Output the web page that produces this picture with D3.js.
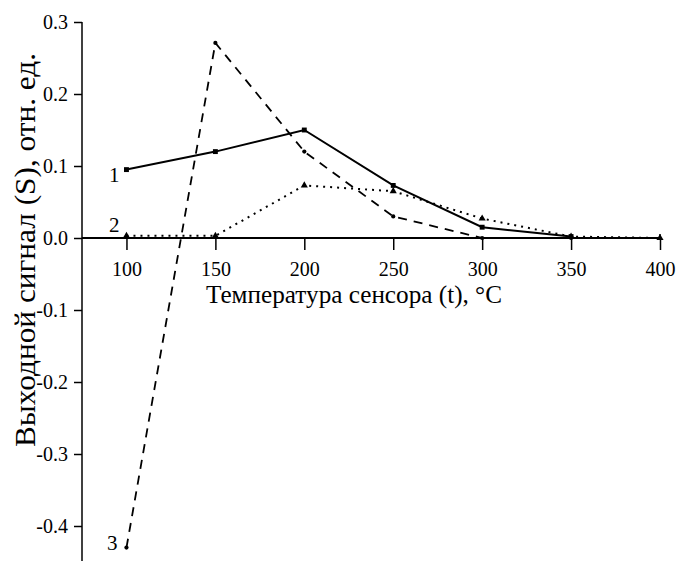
<!DOCTYPE html>
<html lang="ru">
  <head>
    <meta charset="UTF-8" />
    <title>Выходной сигнал</title>
    <style>
      html, body { margin: 0; padding: 0; background: #fff; }
      svg { display: block; }
      svg text { font-family: "Liberation Serif", "Times New Roman", serif !important; fill: #000; }
    </style>
  </head>
  <body>
    <svg width="681" height="561"></svg>

    <script src="https://d3js.org/d3.v7.min.js"></script>
    <script>
      // data
      const temps = [100, 150, 200, 250, 300, 350, 400];
      const series1 = [0.095, 0.12, 0.15, 0.073, 0.015, 0.002, null];
      const series2 = [0.003, 0.003, 0.073, 0.065, 0.027, 0.002, 0.0];
      const series3 = [-0.43, 0.271, 0.12, 0.03, 0.0, 0.0, null];
      const seriesNames = ["1", "2", "3"];
      const xTicks = [100, 150, 200, 250, 300, 350, 400];
      const yTicks = [-0.4, -0.3, -0.2, -0.1, 0.0, 0.1, 0.2, 0.3];
      const xTitle = "Температура сенсора (t), °C";
      const yTitle = "Выходной сигнал (S), отн. ед.";

      const svg = d3.select("svg");

      const x = d3.scaleLinear().domain([75, 400]).range([82, 660]);
      const y = d3.scaleLinear().domain([-0.45, 0.3]).range([562, 22]);

      // x axis sits at y = 0
      const x0 = y(0);
      const xAxis = svg.append("g").attr("transform", `translate(0,${x0})`);
      xAxis.call(
        d3.axisBottom(x).tickValues(d3.range(125, 400, 50)).tickSize(6).tickFormat("")
      );
      xAxis.call(
        d3.axisBottom(x).tickValues(xTicks).tickSize(12).tickPadding(12)
          .tickFormat(d3.format("d"))
      );
      xAxis.selectAll(".domain").remove();
      xAxis.append("line")
        .attr("x1", x(75)).attr("x2", x(400))
        .attr("stroke", "#000").attr("stroke-width", 2);
      xAxis.append("line")
        .attr("x1", x(400)).attr("x2", x(400)).attr("y1", -4).attr("y2", 0)
        .attr("stroke", "#000").attr("stroke-width", 1.5);
      xAxis.selectAll(".tick line").attr("stroke-width", 1.5);
      xAxis.selectAll("text").attr("font-size", 20);

      const yAxis = svg.append("g").attr("transform", `translate(${x(75)},0)`);
      yAxis.call(
        d3.axisLeft(y).tickValues(d3.range(-0.45, 0.3, 0.1)).tickSize(4).tickFormat("")
      );
      yAxis.call(
        d3.axisLeft(y).tickValues(yTicks).tickSize(8).tickPadding(6)
          .tickFormat((d) => d3.format(".1f")(d).replace("\u2212", "-"))
      );
      yAxis.selectAll(".domain").remove();
      yAxis.append("line")
        .attr("y1", y(0.3)).attr("y2", y(-0.45))
        .attr("stroke", "#000").attr("stroke-width", 1.5);
      yAxis.selectAll(".tick line").attr("stroke-width", 1.5);
      yAxis.selectAll("text").attr("font-size", 20);

      // series
      const rows = temps.map((t, i) => ({ t, s1: series1[i], s2: series2[i], s3: series3[i] }));
      const styles = [
        { key: "s1", dash: null, width: 2, marker: d3.symbolSquare, size: 24, lab: [-7, 12] },
        { key: "s2", dash: "2,5", width: 2, marker: d3.symbolTriangle, size: 22, lab: [-7, -4] },
        { key: "s3", dash: "9,7", width: 1.8, marker: d3.symbolCircle, size: 14, lab: [-9, 2] },
      ];

      styles.forEach((st, k) => {
        const pts = rows.filter((d) => d[st.key] !== null);
        const line = d3.line().x((d) => x(d.t)).y((d) => y(d[st.key]));
        svg.append("path")
          .datum(pts)
          .attr("d", line)
          .attr("fill", "none")
          .attr("stroke", "#000")
          .attr("stroke-width", st.width)
          .attr("stroke-dasharray", st.dash);
        svg.selectAll(null)
          .data(pts)
          .enter()
          .append("path")
          .attr("d", d3.symbol().type(st.marker).size(st.size))
          .attr("transform", (d) => `translate(${x(d.t)},${y(d[st.key])})`)
          .attr("fill", "#000");
        const first = pts[0];
        svg.append("text")
          .attr("x", x(first.t) + st.lab[0])
          .attr("y", y(first[st.key]) + st.lab[1])
          .attr("text-anchor", "end")
          .attr("font-size", 21)
          .text(seriesNames[k]);
      });

      // titles
      svg.append("text")
        .attr("x", 206)
        .attr("y", 303)
        .attr("font-size", 26)
        .attr("textLength", 296)
        .attr("lengthAdjust", "spacingAndGlyphs")
        .text(xTitle);

      svg.append("text")
        .attr("transform", "translate(35,250) rotate(-90)")
        .attr("text-anchor", "middle")
        .attr("font-size", 29)
        .attr("textLength", 394)
        .attr("lengthAdjust", "spacingAndGlyphs")
        .text(yTitle);
    </script>
  </body>
</html>
